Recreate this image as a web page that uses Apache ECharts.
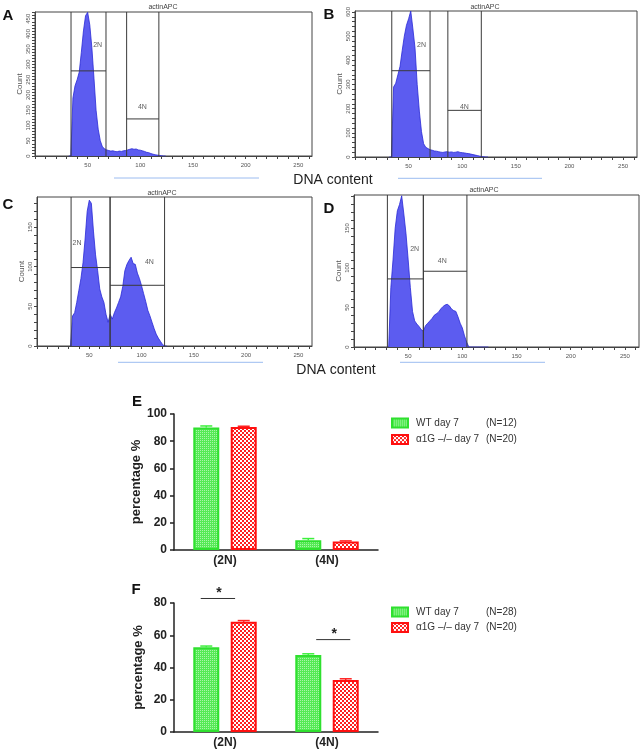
<!DOCTYPE html>
<html><head><meta charset="utf-8">
<script src="https://cdn.jsdelivr.net/npm/echarts@6/dist/echarts.min.js"></script>
<style>html,body{margin:0;padding:0;background:#fff}#c{width:644px;height:750px}</style>
</head><body><div id="c"></div>
<script>
// ---------- DATA ----------
const histX   = [32,34,36,38,40,42,44,46,48,50,52,54,56,58,60,62,64,66,68,70,72,74,76,78,80,82,84,86,88,90,92,94,96,98,100,102,104,106,108,110,112,114,116,118,120,122,124];
const countsA = [0,0,190,230,250,275,340,410,460,471,430,355,255,150,88,50,30,24,20,18,16,17,15,14,16,15,17,18,20,22,24,22,23,20,19,17,15,12,11,8,6,4,3,2,1,0,0];
const countsB = [0,0,290,305,340,375,440,500,545,572,604,530,450,300,190,105,55,40,35,30,28,25,24,22,20,19,21,22,20,21,19,20,22,19,18,17,15,14,12,10,8,6,4,2,1,0,0];
const countsC = [0,38,42,55,70,85,105,135,170,184,180,145,115,95,72,62,55,40,30,40,34,42,48,55,62,75,95,103,108,112,104,103,92,85,76,66,56,45,38,30,22,15,10,6,2,0,0];
const countsD = [0,75,110,150,172,180,191,168,143,110,75,45,33,29,26,22,20,27,30,33,36,40,42,44,48,51,53,54,52,48,46,45,38,30,24,14,6,0,0,0,0,0,0,0,0,0,0];
// gates: [left, right, level]
const gatesA = [[34.2,67.4,279],[87,117.6,121.5]];
const gatesB = [[34.3,70,357],[86.6,117.8,193]];
const gatesC = [[32.6,69.9,99],[69.9,122,76.6]];
const gatesD = [[30.8,64,86],[64,104.2,95.7]];
const gateLabelsA = [['2N',59.5,365],['4N',102,160]];
const gateLabelsB = [['2N',62,465],['4N',102,208]];
const gateLabelsC = [['2N',38.3,130],['4N',107.5,106]];
const gateLabelsD = [['2N',56,124],['4N',81.4,108]];
const histYMax = [472,604,188,192];
const histXMax = 263;

const barCategories = ['(2N)','(4N)'];
const seriesNames = ['WT day 7','α1G –/– day 7'];
const eWT = [90.0, 7.2], eWTerr = [1.2, 1.2];
const eKO = [90.5, 6.2], eKOerr = [0.5, 0.5];
const fWT = [52.5, 47.8], fWTerr = [0.8, 0.7];
const fKO = [68.3, 32.2], fKOerr = [0.8, 0.8];
const eN = ['(N=12)','(N=20)'];
const fN = ['(N=28)','(N=20)'];
// significance: [category, from(frac of band), to(frac of band), y]
const sigF = [[0,-0.238,0.099,82.8],[1,-0.106,0.228,57.3]];

// ---------- CHART ----------
const FONT = '"Liberation Sans", Arial, Helvetica, sans-serif';
function pattern(w,h,bg,fg,cells){
  const c=document.createElement('canvas');c.width=w;c.height=h;
  const g=c.getContext('2d');g.fillStyle=bg;g.fillRect(0,0,w,h);
  g.fillStyle=fg;cells.forEach(a=>g.fillRect(a[0],a[1],a[2],a[3]));
  return {image:c,repeat:'repeat'};
}
const greenPat = pattern(2,2,'#55ea55','#a8f6a8',[[0,0,1,1]]);
const redPat = pattern(4,4,'#ff1f1f','#ffffff',[[0,0,2,2],[2,2,2,2]]);

const grids=[],xAxes=[],yAxes=[],series=[];
const histPanels = [
  {grid:{left:35,top:12,width:277,height:144}, yInt:10, yLab:50, counts:countsA, gates:gatesA, labels:gateLabelsA},
  {grid:{left:355,top:11,width:282,height:146}, yInt:20, yLab:100, counts:countsB, gates:gatesB, labels:gateLabelsB},
  {grid:{left:37,top:197,width:275,height:149}, yInt:10, yLab:50, counts:countsC, gates:gatesC, labels:gateLabelsC},
  {grid:{left:354,top:195,width:285,height:152}, yInt:10, yLab:50, counts:countsD, gates:gatesD, labels:gateLabelsD}
];
histPanels.forEach((p,i)=>{
  const ymax = histYMax[i];
  grids.push(Object.assign({show:true,borderColor:'#444',borderWidth:1}, p.grid));
  xAxes.push({type:'value',gridIndex:i,min:0,max:histXMax,interval:10,
    axisLine:{show:true,onZero:false,lineStyle:{color:'#444',width:1}},
    axisTick:{show:true,length:3,lineStyle:{color:'#444'}},
    axisLabel:{fontSize:6,color:'#555',margin:6,fontFamily:FONT,showMaxLabel:false,
      formatter:v=>(v>0&&v%50===0)?String(v):''},
    splitLine:{show:false}});
  yAxes.push({type:'value',gridIndex:i,min:0,max:ymax,interval:p.yInt,
    name:'Count',nameLocation:'middle',nameGap:11,
    nameTextStyle:{fontSize:8,color:'#555',fontFamily:FONT},
    axisLine:{show:true,onZero:false,lineStyle:{color:'#444'}},
    axisTick:{show:true,length:3,lineStyle:{color:'#444'}},
    axisLabel:{fontSize:6,color:'#555',rotate:90,margin:4,fontFamily:FONT,showMaxLabel:false,
      formatter:v=>(v%p.yLab===0)?String(v):''},
    splitLine:{show:false}});
  series.push({type:'line',xAxisIndex:i,yAxisIndex:i,data:histX.map((x,k)=>[x,p.counts[k]]),
    symbol:'none',lineStyle:{color:'#2a2ad6',width:0.8},areaStyle:{color:'#5c5cf0',opacity:1},
    silent:true,animation:false,z:2});
  series.push({type:'custom',xAxisIndex:i,yAxisIndex:i,data:p.gates,clip:false,z:3,silent:true,animation:false,
    renderItem:(params,api)=>{
      const xL=api.value(0),xR=api.value(1),yl=api.value(2);
      const a=api.coord([xL,0]),b=api.coord([xL,ymax]),c=api.coord([xR,0]),d=api.coord([xR,ymax]);
      const h1=api.coord([xL,yl]),h2=api.coord([xR,yl]);
      const st={stroke:'#3a3a3a',lineWidth:1,fill:null};
      return {type:'group',children:[
        {type:'line',shape:{x1:a[0],y1:a[1],x2:b[0],y2:b[1]},style:st},
        {type:'line',shape:{x1:c[0],y1:c[1],x2:d[0],y2:d[1]},style:st},
        {type:'line',shape:{x1:h1[0],y1:h1[1],x2:h2[0],y2:h2[1]},style:st}
      ]};
    }});
  series.push({type:'scatter',xAxisIndex:i,yAxisIndex:i,symbolSize:0,silent:true,animation:false,z:4,
    data:p.labels.map(l=>({name:l[0],value:[l[1],l[2]]})),
    label:{show:true,position:'inside',formatter:'{b}',fontSize:7,color:'#333',fontFamily:FONT}});
});

// bar panels
const barPanels = [
  {grid:{left:174,top:414,width:204,height:136}, ymax:100, wt:eWT, wtErr:eWTerr, ko:eKO, koErr:eKOerr},
  {grid:{left:174,top:603,width:204,height:129}, ymax:80, wt:fWT, wtErr:fWTerr, ko:fKO, koErr:fKOerr}
];
const BW=26, GAP=0.44, OFF=(BW+BW*GAP)/2;
barPanels.forEach((p,j)=>{
  const i=4+j;
  grids.push(Object.assign({show:false},p.grid));
  xAxes.push({type:'category',gridIndex:i,data:barCategories,
    axisLine:{show:true,lineStyle:{color:'#222',width:1.5}},axisTick:{show:false},
    axisLabel:{fontSize:12,fontWeight:'bold',color:'#222',margin:5,fontFamily:FONT}});
  yAxes.push({type:'value',gridIndex:i,min:0,max:p.ymax,interval:20,
    name:'percentage %',nameLocation:'middle',nameGap:29,
    nameTextStyle:{fontSize:13,fontWeight:'bold',color:'#222',fontFamily:FONT},
    axisLine:{show:true,lineStyle:{color:'#222',width:1.5}},
    axisTick:{show:true,length:4,lineStyle:{color:'#222',width:1.5}},
    axisLabel:{fontSize:12,fontWeight:'bold',color:'#222',margin:7,fontFamily:FONT},
    splitLine:{show:false}});
  series.push({type:'bar',name:seriesNames[0],xAxisIndex:i,yAxisIndex:i,data:p.wt,barWidth:BW,barGap:(GAP*100)+'%',
    itemStyle:{color:greenPat,borderColor:'#2fe02f',borderWidth:2},animation:false});
  series.push({type:'bar',name:seriesNames[1],xAxisIndex:i,yAxisIndex:i,data:p.ko,barWidth:BW,barGap:(GAP*100)+'%',
    itemStyle:{color:redPat,borderColor:'#ff1010',borderWidth:2},animation:false});
  const errData=[];
  p.wt.forEach((v,k)=>errData.push([k,v,p.wtErr[k],-1]));
  p.ko.forEach((v,k)=>errData.push([k,v,p.koErr[k],1]));
  series.push({type:'custom',xAxisIndex:i,yAxisIndex:i,data:errData,clip:false,z:5,silent:true,animation:false,
    renderItem:(params,api)=>{
      const k=api.value(0),v=api.value(1),e=api.value(2),s=api.value(3);
      const b=api.coord([k,v]),t=api.coord([k,v+e]);
      const x=b[0]+s*OFF;
      const col=s<0?'#3cf03c':'#ff2020';
      return {type:'group',children:[
        {type:'line',shape:{x1:x,y1:b[1],x2:x,y2:t[1]},style:{stroke:col,lineWidth:1.5}},
        {type:'line',shape:{x1:x-6,y1:t[1],x2:x+6,y2:t[1]},style:{stroke:col,lineWidth:1.5}}
      ]};
    }});
});
// significance marks on F
series.push({type:'custom',xAxisIndex:5,yAxisIndex:5,data:sigF,clip:false,z:6,silent:true,animation:false,
  renderItem:(params,api)=>{
    const k=api.value(0),f=api.value(1),t=api.value(2),y=api.value(3);
    const c=api.coord([k,y]);const bw=api.size([1,0])[0];
    const x1=c[0]+f*bw,x2=c[0]+t*bw;
    return {type:'group',children:[
      {type:'line',shape:{x1:x1,y1:c[1],x2:x2,y2:c[1]},style:{stroke:'#333',lineWidth:1}},
      {type:'text',x:(x1+x2)/2+1,y:c[1]-5,style:{text:'*',font:'bold 14px '+FONT,fill:'#222',
        align:'center',verticalAlign:'middle',textAlign:'center',textVerticalAlign:'middle'}}
    ]};
  }});

function legendFor(top,gap,nArr){
  return {orient:'vertical',left:391,top:top,padding:0,itemWidth:16,itemHeight:9,itemGap:gap,icon:'rect',
    data:seriesNames,selectedMode:false,
    formatter:name=>`{n|${name}}{m|${nArr[seriesNames.indexOf(name)]}}`,
    textStyle:{fontSize:10,color:'#333',fontFamily:FONT,lineHeight:14,
      rich:{n:{width:70,fontSize:10,color:'#333',padding:[0,0,0,3],fontFamily:FONT},m:{fontSize:10,color:'#333',fontFamily:FONT}}}};
}

function txt(x,y,s,font,fill){
  return {type:'text',x:x,y:y,silent:true,style:{text:s,font:font,fill:fill||'#111',
    align:'center',verticalAlign:'middle',textAlign:'center',textVerticalAlign:'middle'}};
}
function hline(x1,x2,y){
  return {type:'line',silent:true,shape:{x1:x1,y1:y,x2:x2,y2:y},style:{stroke:'#9cbcf0',lineWidth:1}};
}
const graphics=[
  txt(8,15.5,'A','bold 15px '+FONT),
  txt(329,15,'B','bold 15px '+FONT),
  txt(8,205,'C','bold 15px '+FONT),
  txt(329,208.7,'D','bold 15px '+FONT),
  txt(137,402,'E','bold 15px '+FONT),
  txt(136,590,'F','bold 15px '+FONT),
  txt(163,7,'actinAPC','7px '+FONT,'#444'),
  txt(485,7.3,'actinAPC','7px '+FONT,'#444'),
  txt(162,193.3,'actinAPC','7px '+FONT,'#444'),
  txt(484,190,'actinAPC','7px '+FONT,'#444'),
  txt(333,180,'DNA content','14px '+FONT,'#222'),
  txt(336,370,'DNA content','14px '+FONT,'#222'),
  hline(114,259,178),
  hline(398,542,178.3),
  hline(118,263,362.3),
  hline(400,545,362.3)
];

const chart=echarts.init(document.getElementById('c'),null,{renderer:'canvas'});
chart.setOption({
  animation:false,
  backgroundColor:'#fff',
  textStyle:{fontFamily:FONT},
  grid:grids,xAxis:xAxes,yAxis:yAxes,series:series,
  legend:[legendFor(416,2.6,eN),legendFor(605,1.4,fN)],
  graphic:graphics
});
</script></body></html>
